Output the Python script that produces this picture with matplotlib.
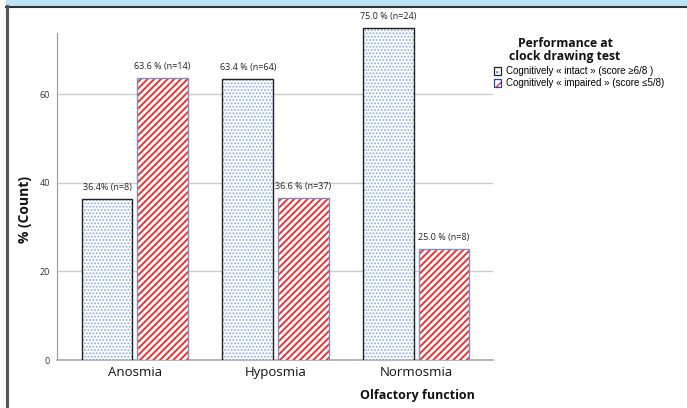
import matplotlib
matplotlib.use("Agg")
import matplotlib.pyplot as plt
from matplotlib.patches import Rectangle, Patch
from matplotlib.lines import Line2D
from matplotlib.legend_handler import HandlerTuple
import numpy as np

categories = ["Anosmia", "Hyposmia", "Normosmia"]
intact = [36.4, 63.4, 75.0]
impaired = [63.6, 36.6, 25.0]
intact_labels = ["36.4% (n=8)", "63.4 % (n=64)", "75.0 % (n=24)"]
impaired_labels = ["63.6 % (n=14)", "36.6 % (n=37)", "25.0 % (n=8)"]
yticks = [0, 20, 40, 60]
legend_title = "Performance at\nclock drawing test"
legend_labels = ["Cognitively « intact » (score ≥6/8 )",
                 "Cognitively « impaired » (score ≤5/8)"]

plt.rcParams['font.family'] = ['Open Sans', 'DejaVu Sans']

W, H = 687, 408
fig = plt.figure(figsize=(W/100, H/100), dpi=100)

# frame decoration
fig.patches.append(Rectangle((6/W, 1-6/H), 1, 6/H, transform=fig.transFigure,
                             facecolor='#bde3f5', edgecolor='none', zorder=0))
fig.lines.append(Line2D([6/W, 1], [1-6.5/H, 1-6.5/H], transform=fig.transFigure,
                        color='#333333', lw=1.5))
fig.lines.append(Line2D([7/W, 7/W], [0, 1-6/H], transform=fig.transFigure,
                        color='#555555', lw=2.2))

ax_left, ax_right = 57/W, 493/W
ax_bottom = 1 - 360/H
ymax = 76
px_per = 4.43
ax_top = 1 - (360 - ymax*px_per)/H
ax = fig.add_axes([ax_left, ax_bottom, ax_right-ax_left, ax_top-ax_bottom])

x = np.arange(len(categories))
w = 0.36
off = 0.197

# intact bars: light blue dots, black edge
with plt.rc_context({'hatch.linewidth': 0.9}):
    ax.bar(x-off, intact, w, color='white', hatch='.....', edgecolor='#8aaae6', linewidth=0, zorder=3)
    h1a = Patch(facecolor='white', hatch='...', edgecolor='#6f95e0', linewidth=0)
ax.bar(x-off, intact, w, fill=False, edgecolor='#222222', linewidth=1.0, zorder=4)
h1b = Patch(fill=False, edgecolor='#222222', linewidth=0.9)
# impaired bars: red stripes, bluish edge
with plt.rc_context({'hatch.linewidth': 1.4}):
    ax.bar(x+off, impaired, w, color='white', hatch='/////', edgecolor='#f03030', linewidth=0, zorder=3)
    h2a = Patch(facecolor='white', hatch='//', edgecolor='#f03030', linewidth=0)
ax.bar(x+off, impaired, w, fill=False, edgecolor='#7f8fc0', linewidth=1.0, zorder=4)
h2b = Patch(fill=False, edgecolor='#3040a0', linewidth=0.9)

for xi, v, t in zip(x-off, intact, intact_labels):
    ax.text(xi, v + 1.6, t, ha='center', va='bottom', fontsize=6.5, color='#222222', clip_on=False)
for xi, v, t in zip(x+off, impaired, impaired_labels):
    ax.text(xi, v + 1.6, t, ha='center', va='bottom', fontsize=6.5, color='#222222', clip_on=False)

ax.set_xlim(-0.553, 2.546)
ax.set_ylim(0, ymax)
ax.set_yticks(yticks)
ax.set_yticklabels([str(t) for t in yticks], fontsize=6.5, color='#333333')
ax.tick_params(axis='y', length=0, pad=5)
ax.tick_params(axis='x', length=0, pad=4)
ax.set_xticks(x)
ax.set_xticklabels(categories, fontsize=9.5, color='#111111')
ax.grid(axis='y', color='#cccccc', lw=1.0, zorder=0)
ax.set_axisbelow(True)
for s in ['top', 'right']:
    ax.spines[s].set_visible(False)
ax.spines['left'].set_bounds(0, 73.8)
ax.spines['left'].set_color('#999999')
ax.spines['bottom'].set_color('#aaaaaa')
ax.spines['bottom'].set_linewidth(1.2)

fig.text(417/W, 1-396/H, "Olfactory function", ha='center', va='center',
         fontsize=9, fontweight='bold', color='#111111')
fig.text(25/W, 1-210/H, "% (Count)", ha='center', va='center', rotation=90,
         fontsize=10, fontweight='bold', color='#111111')

# legend
fig.text(565/W, 1-50/H, legend_title, ha='center', va='center', fontsize=8.8,
         fontweight='bold', color='#111111', linespacing=0.95)
leg = fig.legend([(h1a, h1b), (h2a, h2b)], legend_labels, loc='upper left',
                 bbox_to_anchor=(494/W, 1-66/H), frameon=False,
                 handler_map={tuple: HandlerTuple(ndivide=1, pad=0)},
                 handlelength=0.75, handleheight=0.9, handletextpad=0.45,
                 labelspacing=0.2, borderaxespad=0, borderpad=0,
                 prop={'family': ['Liberation Sans', 'DejaVu Sans'], 'size': 7.0})

fig.savefig("out.png", dpi=100)
